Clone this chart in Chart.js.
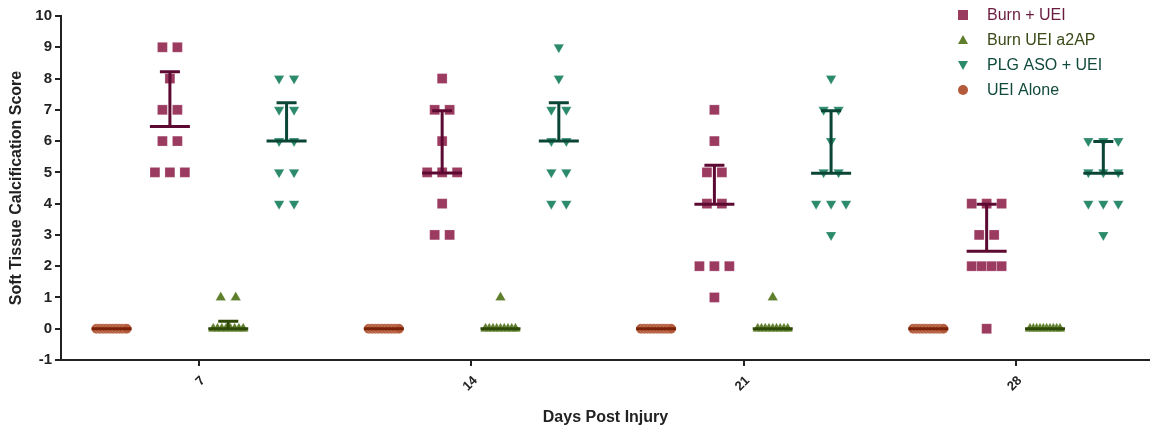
<!DOCTYPE html>
<html>
<head>
<meta charset="utf-8">
<script src="https://cdn.jsdelivr.net/npm/chart.js@4.4.0/dist/chart.umd.min.js"></script>
<style>
    body { margin: 0; background: #fff; }
    #wrap { width: 1150px; height: 430px; }
</style>
</head>
<body>
<div id="wrap"><canvas id="chart" width="1150" height="430"></canvas></div>
<script>
// Data
const days = [7, 14, 21, 28];

const burnUei = [
    [9, 9, 8, 7, 7, 6, 6, 5, 5, 5],
    [8, 7, 7, 6, 5, 5, 5, 4, 3, 3],
    [7, 6, 5, 5, 4, 4, 2, 2, 2, 1],
    [4, 4, 4, 3, 3, 2, 2, 2, 2, 0]
];
const burnUeiA2ap = [
    [1, 1, 0, 0, 0, 0, 0, 0, 0, 0],
    [1, 0, 0, 0, 0, 0, 0, 0, 0, 0],
    [1, 0, 0, 0, 0, 0, 0, 0, 0, 0],
    [0, 0, 0, 0, 0, 0, 0, 0, 0, 0]
];
const plgAsoUei = [
    [8, 8, 7, 7, 6, 6, 5, 5, 4, 4],
    [9, 8, 7, 7, 6, 6, 5, 5, 4, 4],
    [8, 7, 7, 6, 5, 5, 4, 4, 4, 3],
    [6, 6, 6, 5, 5, 5, 4, 4, 4, 3]
];
const ueiAlone = [
    [0, 0, 0, 0, 0, 0, 0, 0, 0, 0],
    [0, 0, 0, 0, 0, 0, 0, 0, 0, 0],
    [0, 0, 0, 0, 0, 0, 0, 0, 0, 0],
    [0, 0, 0, 0, 0, 0, 0, 0, 0, 0]
];

// centre line and upper error bar end, per day
const burnUeiMid = [6.47, 4.98, 3.98, 2.48];
const burnUeiTop = [8.22, 6.97, 5.23, 3.98];
const a2apMid = [0, 0, 0, 0];
const a2apTop = [0.24, 0, 0, 0];
const plgMid = [6, 6, 4.97, 4.97];
const plgTop = [7.23, 7.23, 6.97, 5.99];
const ueiMid = [0, 0, 0, 0];
const ueiTop = [0, 0, 0, 0];

const yTicks = [-1, 0, 1, 2, 3, 4, 5, 6, 7, 8, 9, 10];

// Layout constants (in day units)
const GROUP_OFFSET = { uei: -2.25, burn: -0.75, a2ap: 0.75, plg: 2.25 };
const JIT_STEP = 0.385;
const JIT_SPAN = 0.77;

const FONT = "'Liberation Sans', Arial, sans-serif";

function buildPoints(groups, offset) {
    const pts = [];
    groups.forEach((vals, i) => {
        const counts = {};
        vals.forEach(v => counts[v] = (counts[v] || 0) + 1);
        const seen = {};
        vals.forEach(v => {
            const n = counts[v];
            const k = seen[v] || 0;
            seen[v] = k + 1;
            const step = n > 1 ? Math.min(JIT_STEP, JIT_SPAN / (n - 1)) : 0;
            pts.push({ x: days[i] + offset + (k - (n - 1) / 2) * step, y: v });
        });
    });
    return pts;
}

const series = [
    { label: 'Burn + UEI', data: burnUei, mid: burnUeiMid, top: burnUeiTop, off: GROUP_OFFSET.burn,
      style: 'rect', radius: 7, rotation: 0, color: '#9c3b60', bar: '#5c0a32', text: '#6a1b3f' },
    { label: 'Burn UEI a2AP', data: burnUeiA2ap, mid: a2apMid, top: a2apTop, off: GROUP_OFFSET.a2ap,
      style: 'triangle', radius: 6, rotation: 0, color: '#5f7f2d', bar: '#2f4a06', text: '#3a4a18' },
    { label: 'PLG ASO + UEI', data: plgAsoUei, mid: plgMid, top: plgTop, off: GROUP_OFFSET.plg,
      style: 'triangle', radius: 6, rotation: 180, color: '#2c8a6c', bar: '#0a4536', text: '#104a3c' },
    { label: 'UEI Alone', data: ueiAlone, mid: ueiMid, top: ueiTop, off: GROUP_OFFSET.uei,
      style: 'circle', radius: 5, rotation: 0, color: '#b35a3a', bar: '#7a2208', text: '#104a3c' }
];

// Mean line + upper bar with cap, drawn over the points
const errorBarPlugin = {
    id: 'errorBars',
    afterDatasetsDraw(chart) {
        const ctx = chart.ctx;
        const xs = chart.scales.x, ys = chart.scales.y;
        ctx.save();
        ctx.lineWidth = 3;
        series.forEach(s => {
            ctx.strokeStyle = s.bar;
            days.forEach((d, i) => {
                const cx = xs.getPixelForValue(d + s.off);
                const ym = ys.getPixelForValue(s.mid[i]);
                const yt = ys.getPixelForValue(s.top[i]);
                ctx.beginPath();
                ctx.moveTo(cx - 20, ym); ctx.lineTo(cx + 20, ym);
                if (s.top[i] > s.mid[i]) {
                    ctx.moveTo(cx, ym); ctx.lineTo(cx, yt);
                    ctx.moveTo(cx - 10, yt); ctx.lineTo(cx + 10, yt);
                }
                ctx.stroke();
            });
        });
        ctx.restore();
    }
};

// Legend in the top right corner of the plot
const legendPlugin = {
    id: 'cornerLegend',
    afterDraw(chart) {
        const ctx = chart.ctx;
        ctx.save();
        ctx.font = '16px ' + FONT;
        ctx.textBaseline = 'middle';
        series.forEach((s, i) => {
            const y = 15 + i * 25;
            const x = 963;
            ctx.fillStyle = s.color;
            ctx.beginPath();
            if (s.style === 'rect') {
                ctx.rect(x - 5, y - 5, 10, 10);
            } else if (s.style === 'circle') {
                ctx.arc(x, y, 5, 0, Math.PI * 2);
            } else if (s.rotation === 180) {
                ctx.moveTo(x - 5, y - 4); ctx.lineTo(x + 5, y - 4); ctx.lineTo(x, y + 5);
            } else {
                ctx.moveTo(x - 5, y + 4); ctx.lineTo(x + 5, y + 4); ctx.lineTo(x, y - 5);
            }
            ctx.closePath();
            ctx.fill();
            ctx.fillStyle = s.text;
            ctx.fillText(s.label, 987, y + 1);
        });
        ctx.restore();
    }
};

new Chart(document.getElementById('chart'), {
    type: 'scatter',
    data: {
        datasets: series.map(s => ({
            label: s.label,
            data: buildPoints(s.data, s.off),
            pointStyle: s.style,
            pointRadius: s.radius,
            pointHoverRadius: s.radius,
            pointRotation: s.rotation,
            backgroundColor: s.color,
            borderColor: 'rgba(255,255,255,0.35)',
            borderWidth: 0.6
        }))
    },
    options: {
        responsive: false,
        animation: false,
        events: [],
        layout: { autoPadding: false, padding: { top: 16, right: 0, left: 0, bottom: 0 } },
        plugins: { legend: { display: false }, tooltip: { enabled: false } },
        scales: {
            x: {
                type: 'linear',
                min: 3.45,
                max: 31.45,
                afterBuildTicks: scale => { scale.ticks = days.map(v => ({ value: v })); },
                afterFit: scale => {
                    scale.height = 70;
                    scale.paddingLeft = 0;
                    scale.paddingRight = 0;
                },
                border: { display: true, color: '#222', width: 2 },
                grid: { drawOnChartArea: false, drawTicks: true, tickLength: 6, color: '#222', lineWidth: 2 },
                ticks: {
                    color: '#222',
                    font: { family: FONT, size: 13, weight: 'bold' },
                    minRotation: 45,
                    maxRotation: 45,
                    labelOffset: 4,
                    padding: 7
                },
                title: {
                    display: true,
                    text: 'Days Post Injury',
                    color: '#222',
                    font: { family: FONT, size: 16, weight: 'bold' },
                    padding: { top: 0, bottom: 3 }
                }
            },
            y: {
                min: -1,
                max: 10,
                afterBuildTicks: scale => { scale.ticks = yTicks.map(v => ({ value: v })); },
                afterFit: scale => {
                    scale.width = 61;
                    scale.paddingTop = 0;
                    scale.paddingBottom = 0;
                },
                border: { display: true, color: '#222', width: 2 },
                grid: { drawOnChartArea: false, drawTicks: true, tickLength: 6, color: '#222', lineWidth: 2 },
                ticks: {
                    color: '#222',
                    font: { family: FONT, size: 15, weight: 'bold' },
                    padding: 3
                },
                title: {
                    display: true,
                    text: 'Soft Tissue Calcification Score',
                    color: '#222',
                    font: { family: FONT, size: 16, weight: 'bold' },
                    padding: { top: 7, bottom: 0 }
                }
            }
        }
    },
    plugins: [errorBarPlugin, legendPlugin]
});
</script>
</body>
</html>
